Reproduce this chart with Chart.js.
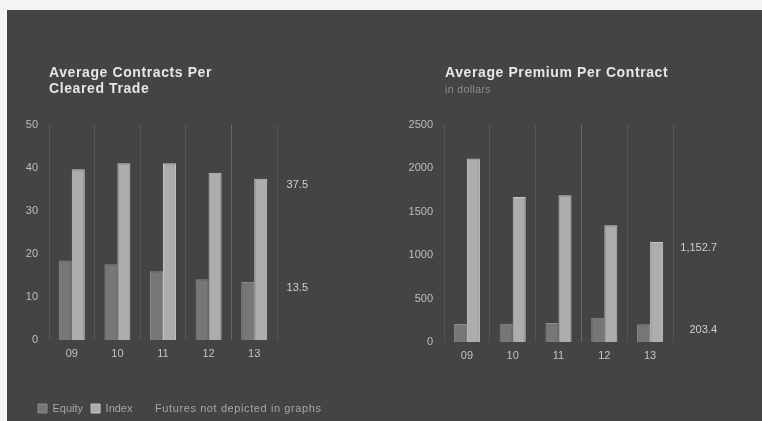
<!DOCTYPE html>
<html>
<head>
<meta charset="utf-8">
<script src="https://cdn.jsdelivr.net/npm/chart.js@4.4.1/dist/chart.umd.min.js"></script>
<style>
  html, body { margin: 0; padding: 0; background: #f4f4f4; width: 762px; height: 421px; overflow: hidden; }
  #panel { position: absolute; left: 7px; top: 10px; width: 755px; height: 411px; background: #444444; }
  .box { position: absolute; top: 0; width: 381px; height: 421px; }
  .title { position: absolute; font-family: "Liberation Sans", Arial, sans-serif; font-weight: bold;
           font-size: 14px; line-height: 16px; letter-spacing: 0.6px; color: #e6e6e6; white-space: nowrap; }
  .sub { position: absolute; font-family: "Liberation Sans", Arial, sans-serif; font-size: 10.5px;
         line-height: 12px; letter-spacing: 0.4px; color: #8c8c8c; white-space: nowrap; }
  .note { position: absolute; font-family: "Liberation Sans", Arial, sans-serif; font-size: 11px;
          line-height: 12px; letter-spacing: 0.6px; color: #a6a6a6; white-space: nowrap; }
</style>
</head>
<body>
<div id="panel"></div>
<div class="box" style="left:0"><canvas id="contracts" width="381" height="421"></canvas></div>
<div class="box" style="left:381px"><canvas id="premium" width="381" height="421"></canvas></div>
<div class="title" style="left:49px;top:64px">Average Contracts Per<br>Cleared Trade</div>
<div class="title" style="left:445px;top:64px">Average Premium Per Contract</div>
<div class="sub" style="left:445px;top:83px">in dollars</div>
<div class="note" style="left:155px;top:402px">Futures not depicted in graphs</div>
<script>
// Years shown on both charts
const years = ['09', '10', '11', '12', '13'];

// Average contracts per cleared trade
const contractsEquity = [18.5, 17.6, 16.0, 14.1, 13.5];
const contractsIndex = [39.7, 41.1, 41.1, 38.9, 37.5];
const contractsTicks = { min: 0, max: 50, step: 10 };

// Average premium per contract, in dollars
const premiumEquity = [208, 210, 218, 280, 203.4];
const premiumIndex = [2113, 1671, 1691, 1345, 1152.7];
const premiumTicks = { min: 0, max: 2500, step: 500 };

const seriesNames = ['Equity', 'Index'];
const FONT = '"Liberation Sans", Arial, sans-serif';
Chart.defaults.font.family = FONT;

const equityFill = '#777777';
const equityEdge = '#8a8a8a';
const indexFill = '#adadad';
const indexEdge = '#c4c4c4';

// Prints the latest value of each series just right of the plot
const lastValueLabels = {
  id: 'lastValueLabels',
  afterDatasetsDraw(chart, args, opts) {
    const { ctx, chartArea } = chart;
    const y = chart.scales.y;
    ctx.save();
    ctx.font = '11px ' + FONT;
    ctx.fillStyle = '#cfcfcf';
    ctx.textAlign = 'right';
    ctx.textBaseline = 'middle';
    chart.data.datasets.forEach(ds => {
      const v = ds.data[ds.data.length - 1];
      const txt = v.toLocaleString('en-US', { minimumFractionDigits: 1, maximumFractionDigits: 1 });
      ctx.fillText(txt, chartArea.right + opts.dx, y.getPixelForValue(v) + 6);
    });
    ctx.restore();
  }
};

// Moves the legend block so that it lines up under the y-axis labels
const legendShift = {
  id: 'legendShift',
  afterLayout(chart, args, opts) {
    const lg = chart.legend;
    if (!lg || !lg.options.display) return;
    lg.left += opts.dx; lg.right += opts.dx;
    lg.top += opts.dy; lg.bottom += opts.dy;
  }
};

function makeChart(id, equity, index, ticks, cfg) {
  return new Chart(document.getElementById(id), {
    type: 'bar',
    data: {
      labels: years,
      datasets: [
        { label: seriesNames[0], data: equity, backgroundColor: equityFill, borderColor: equityEdge, borderWidth: 1 },
        { label: seriesNames[1], data: index, backgroundColor: indexFill, borderColor: indexEdge, borderWidth: 1 }
      ]
    },
    plugins: [lastValueLabels, legendShift],
    options: {
      responsive: false,
      animation: false,
      devicePixelRatio: 1,
      layout: { padding: cfg.padding },
      datasets: { bar: { categoryPercentage: 0.57, barPercentage: 1.0 } },
      plugins: {
        title: { display: false },
        tooltip: { enabled: false },
        lastValueLabels: { dx: cfg.labelDx },
        legendShift: { dx: 30, dy: 3 },
        legend: cfg.legend
      },
      scales: {
        x: {
          offset: true,
          grid: {
            display: true,
            offset: true,
            drawTicks: false,
            lineWidth: 1,
            color: ctx => ctx.index === cfg.brightLine ? 'rgba(255,255,255,0.2)' : 'rgba(255,255,255,0.09)'
          },
          border: { display: false },
          ticks: { color: '#c2c2c2', font: { size: 11 }, padding: 7 },
          afterFit(scale) { scale.height = cfg.xHeight; }
        },
        y: {
          min: ticks.min,
          max: ticks.max,
          grid: { display: false, drawTicks: false },
          border: { display: false },
          ticks: { stepSize: ticks.step, color: '#bdbdbd', font: { size: 11 }, padding: 11,
                   callback: v => String(v) },
          afterFit(scale) { scale.width = cfg.yWidth; }
        }
      }
    }
  });
}

makeChart('contracts', contractsEquity, contractsIndex, contractsTicks, {
  padding: { top: 125, right: 104, left: 0, bottom: 0 },
  yWidth: 49,
  xHeight: 52,
  labelDx: 31,
  brightLine: 4,
  legend: {
    display: true,
    position: 'bottom',
    align: 'start',
    labels: { boxWidth: 9, boxHeight: 9, padding: 8, color: '#a6a6a6', font: { size: 11 } }
  }
});

makeChart('premium', premiumEquity, premiumIndex, premiumTicks, {
  padding: { top: 125, right: 89, left: 0, bottom: 49 },
  yWidth: 63,
  xHeight: 30,
  labelDx: 44,
  brightLine: 3,
  legend: { display: false }
});
</script>
</body>
</html>
